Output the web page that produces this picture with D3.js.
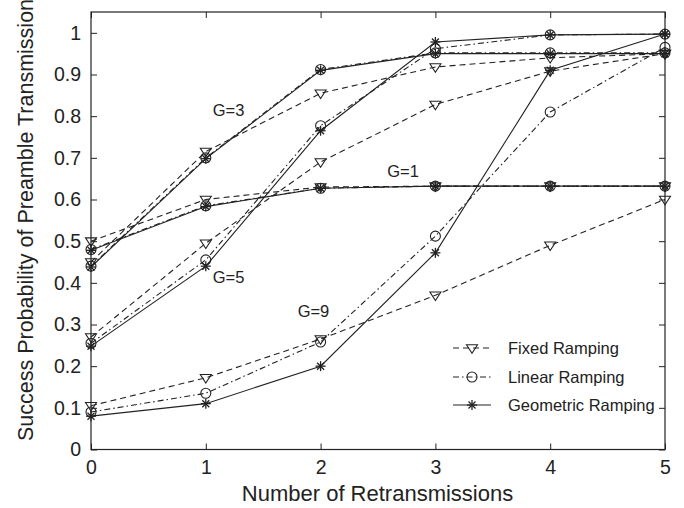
<!DOCTYPE html>
<html><head><meta charset="utf-8">
<script src="https://cdn.jsdelivr.net/npm/d3@7"></script>
<style>body{margin:0;background:#fff}svg{display:block}text{font-family:"Liberation Sans",Arial,sans-serif;fill:#222}</style>
</head><body><svg id="c" width="684" height="508"></svg>
<script>
const xTicks = [0,1,2,3,4,5];
const yTicks = [0,0.1,0.2,0.3,0.4,0.5,0.6,0.7,0.8,0.9,1];
const yTickLabels = ["0","0.1","0.2","0.3","0.4","0.5","0.6","0.7","0.8","0.9","1"];
const schemes = ["Fixed Ramping","Linear Ramping","Geometric Ramping"];
// G=1
const g1Fixed = [0.50,0.60,0.630,0.632,0.632,0.632];
const g1Linear = [0.48,0.585,0.627,0.632,0.632,0.632];
const g1Geom = [0.478,0.583,0.627,0.632,0.632,0.632];
// G=3
const g3Fixed = [0.45,0.715,0.855,0.918,0.94,0.95];
const g3Linear = [0.44,0.70,0.912,0.952,0.952,0.952];
const g3Geom = [0.438,0.698,0.91,0.95,0.95,0.95];
// G=5
const g5Fixed = [0.27,0.495,0.69,0.828,0.908,0.95];
const g5Linear = [0.255,0.455,0.777,0.962,0.995,0.997];
const g5Geom = [0.248,0.44,0.765,0.978,0.995,0.997];
// G=9
const g9Fixed = [0.105,0.172,0.265,0.37,0.49,0.60];
const g9Linear = [0.09,0.135,0.258,0.512,0.81,0.965];
const g9Geom = [0.08,0.11,0.20,0.472,0.91,0.997];
const groupLabels = ["G=3","G=1","G=5","G=9"];

const series = [
  {v:g1Fixed,s:0},{v:g1Linear,s:1},{v:g1Geom,s:2},
  {v:g3Fixed,s:0},{v:g3Linear,s:1},{v:g3Geom,s:2},
  {v:g5Fixed,s:0},{v:g5Linear,s:1},{v:g5Geom,s:2},
  {v:g9Fixed,s:0},{v:g9Linear,s:1},{v:g9Geom,s:2}
];
const dashes = ["6,4","6,3,1.5,3",null];

const svg = d3.select("#c");
const L=91,R=665,T=12,B=449.5;
const x = d3.scaleLinear().domain([0,5]).range([L,R]);
const y = d3.scaleLinear().domain([0,1.05]).range([B,T]);
const col="#222";

svg.append("rect").attr("x",L).attr("y",T).attr("width",R-L).attr("height",B-T)
  .attr("fill","none").attr("stroke",col).attr("stroke-width",1.2);

const xa = svg.append("g").attr("transform",`translate(0,${B})`)
  .call(d3.axisBottom(x).tickValues(xTicks).tickSizeInner(-6).tickSizeOuter(0).tickPadding(11).tickFormat(d3.format("d")));
const xt = svg.append("g").attr("transform",`translate(0,${T})`)
  .call(d3.axisTop(x).tickValues(xTicks).tickSizeInner(-6).tickSizeOuter(0).tickFormat(""));
const ya = svg.append("g").attr("transform",`translate(${L},0)`)
  .call(d3.axisLeft(y).tickValues(yTicks).tickSizeInner(-6).tickSizeOuter(0).tickPadding(10).tickFormat((d,i)=>yTickLabels[i]));
const yr = svg.append("g").attr("transform",`translate(${R},0)`)
  .call(d3.axisRight(y).tickValues(yTicks).tickSizeInner(-6).tickSizeOuter(0).tickFormat(""));
[xa,xt,ya,yr].forEach(g=>{g.select(".domain").remove();g.selectAll("line").attr("stroke",col);
  g.selectAll("text").attr("font-size",19.5).attr("font-family","Liberation Sans, Arial, sans-serif").attr("fill",col);});
xa.selectAll("text").attr("dy","0.71em");

const line = d3.line().x((d,i)=>x(xTicks[i])).y(d=>y(d));
function marker(g,type,cx,cy){
  if(type===0){
    const s=5.5;
    g.append("path").attr("d",`M${cx-s},${cy-s*0.6}L${cx+s},${cy-s*0.6}L${cx},${cy+s*0.95}Z`)
      .attr("fill","none").attr("stroke",col).attr("stroke-width",1.1);
  } else if(type===1){
    g.append("circle").attr("cx",cx).attr("cy",cy).attr("r",5).attr("fill","none").attr("stroke",col).attr("stroke-width",1.1);
  } else {
    const s=5;
    const d=[[0,-s,0,s],[-s,0,s,0],[-s*0.7,-s*0.7,s*0.7,s*0.7],[-s*0.7,s*0.7,s*0.7,-s*0.7]];
    d.forEach(a=>g.append("line").attr("x1",cx+a[0]).attr("y1",cy+a[1]).attr("x2",cx+a[2]).attr("y2",cy+a[3])
      .attr("stroke",col).attr("stroke-width",1.3));
  }
}
series.forEach(se=>{
  const g=svg.append("g");
  g.append("path").attr("d",line(se.v)).attr("fill","none").attr("stroke",col).attr("stroke-width",1.1)
    .attr("stroke-dasharray",dashes[se.s]);
  se.v.forEach((v,i)=>marker(g,se.s,x(xTicks[i]),y(v)));
});

const ann=[[x(1.06),y(0.8),groupLabels[0]],[x(2.58),y(0.655),groupLabels[1]],[x(1.06),y(0.4),groupLabels[2]],[x(1.8),y(0.318),groupLabels[3]]];
ann.forEach(a=>svg.append("text").attr("x",a[0]).attr("y",a[1]).attr("font-size",16.5).attr("fill",col).text(a[2]));

const legY=[348,377,405];
schemes.forEach((nm,i)=>{
  const g=svg.append("g");
  g.append("line").attr("x1",453).attr("x2",491).attr("y1",legY[i]).attr("y2",legY[i]).attr("stroke",col)
    .attr("stroke-width",1.1).attr("stroke-dasharray",dashes[i]);
  marker(g,i,472,legY[i]);
  g.append("text").attr("x",508).attr("y",legY[i]).attr("dy","0.35em").attr("font-size",16.5).attr("fill",col).text(nm);
});

svg.append("text").attr("x",(L+R)/2-0.5).attr("y",501).attr("text-anchor","middle").attr("font-size",22).attr("fill",col)
  .text("Number of Retransmissions");
svg.append("text").attr("transform","translate(33,220) rotate(-90)").attr("text-anchor","middle").attr("font-size",21.5).attr("fill",col)
  .text("Success Probability of Preamble Transmission");
</script></body></html>
